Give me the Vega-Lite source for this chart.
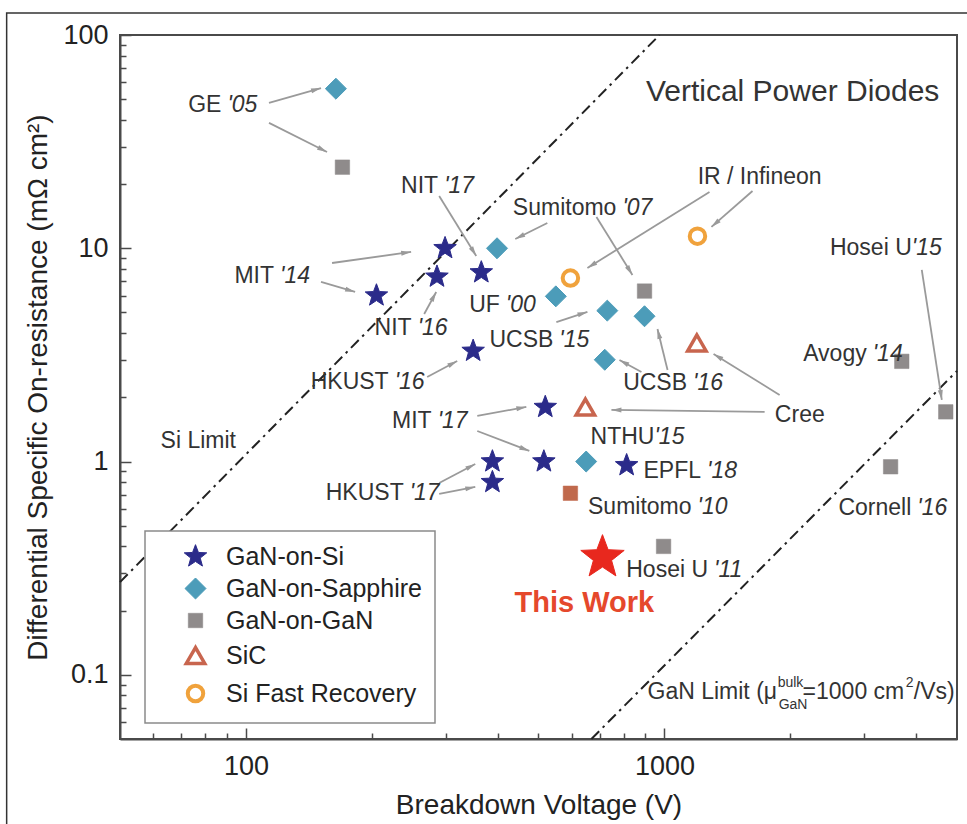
{
  "$schema": "https://vega.github.io/schema/vega-lite/v6.json",
  "width": 837,
  "height": 704,
  "autosize": {"type": "none"},
  "padding": {"left": 120, "top": 35, "right": 10, "bottom": 85},
  "background": "white",
  "config": {
    "font": "Liberation Sans",
    "view": {"stroke": "#4a4a4a", "strokeWidth": 2},
    "legend": {
      "orient": "none",
      "legendX": 25,
      "legendY": 496,
      "padding": 13,
      "strokeColor": "#8a8a8a",
      "strokeWidth": 1.5,
      "fillColor": "white",
      "labelFont": "Liberation Sans",
      "labelFontSize": 25,
      "labelColor": "#222222",
      "labelLimit": 400,
      "rowPadding": 6,
      "labelOffset": 18,
      "symbolOffset": 25
    }
  },
  "datasets": {
    "frame": [{"v": 26.8, "r": 126.8, "v2": 6330, "r2": 0.0088}],
    "pts": [
      {"cat": "GaN-on-Si", "v": 205, "r": 6.0},
      {"cat": "GaN-on-Si", "v": 299, "r": 10.0},
      {"cat": "GaN-on-Si", "v": 286, "r": 7.35},
      {"cat": "GaN-on-Si", "v": 365, "r": 7.7},
      {"cat": "GaN-on-Si", "v": 349, "r": 3.3},
      {"cat": "GaN-on-Si", "v": 519, "r": 1.8},
      {"cat": "GaN-on-Si", "v": 388, "r": 1.0},
      {"cat": "GaN-on-Si", "v": 515, "r": 1.0},
      {"cat": "GaN-on-Si", "v": 388, "r": 0.8},
      {"cat": "GaN-on-Si", "v": 812, "r": 0.96},
      {"cat": "GaN-on-Sapphire", "v": 164, "r": 56},
      {"cat": "GaN-on-Sapphire", "v": 398, "r": 10},
      {"cat": "GaN-on-Sapphire", "v": 550, "r": 5.95},
      {"cat": "GaN-on-Sapphire", "v": 730, "r": 5.1},
      {"cat": "GaN-on-Sapphire", "v": 896, "r": 4.8},
      {"cat": "GaN-on-Sapphire", "v": 720, "r": 3.0},
      {"cat": "GaN-on-Sapphire", "v": 650, "r": 1.0},
      {"cat": "GaN-on-GaN", "v": 170, "r": 24},
      {"cat": "GaN-on-GaN", "v": 896, "r": 6.3},
      {"cat": "GaN-on-GaN", "v": 995, "r": 0.40},
      {"cat": "GaN-on-GaN", "v": 3690, "r": 2.95},
      {"cat": "GaN-on-GaN", "v": 4700, "r": 1.71},
      {"cat": "GaN-on-GaN", "v": 3470, "r": 0.945},
      {"cat": "SiC", "v": 1195, "r": 3.6},
      {"cat": "SiC", "v": 647, "r": 1.8},
      {"cat": "Si Fast Recovery", "v": 596, "r": 7.25},
      {"cat": "Si Fast Recovery", "v": 1199, "r": 11.4}
    ],
    "sumi10": [{"v": 596, "r": 0.71}],
    "thiswork": [{"v": 711, "r": 0.355}],
    "limits": [
      {"line": "Si", "v": 50, "r": 0.272},
      {"line": "Si", "v": 973, "r": 100},
      {"line": "GaN", "v": 669, "r": 0.05},
      {"line": "GaN", "v": 5000, "r": 2.66}
    ],
    "arrows": [
      {"v": 151.1, "r": 56.4, "v2": 113.5, "r2": 48.0, "ang": 73.9},
      {"v": 156.2, "r": 28.28, "v2": 113.5, "r2": 38.7, "ang": 116.6},
      {"v": 355.0, "r": 9.2, "v2": 289.5, "r2": 17.59, "ang": 148.3},
      {"v": 248.1, "r": 9.61, "v2": 160.6, "r2": 8.53, "ang": 82.1},
      {"v": 182.3, "r": 6.24, "v2": 151.1, "r2": 6.95, "ang": 106.4},
      {"v": 284.8, "r": 6.24, "v2": 266.6, "r2": 4.92, "ang": 28.6},
      {"v": 440.0, "r": 11.06, "v2": 524.9, "r2": 13.14, "ang": 243.4},
      {"v": 838.3, "r": 7.5, "v2": 687.7, "r2": 14.02, "ang": 148.2},
      {"v": 654.4, "r": 8.08, "v2": 1281, "r2": 18.36, "ang": 238.1},
      {"v": 1295, "r": 12.59, "v2": 1623, "r2": 18.56, "ang": 228.7},
      {"v": 654.4, "r": 5.03, "v2": 551.6, "r2": 4.51, "ang": 72.1},
      {"v": 319.7, "r": 2.962, "v2": 271.0, "r2": 2.493, "ang": 61.9},
      {"v": 780.4, "r": 2.994, "v2": 881.0, "r2": 2.631, "ang": 298.6},
      {"v": 962.2, "r": 4.183, "v2": 1017, "r2": 2.688, "ang": 346.3},
      {"v": 1310, "r": 3.195, "v2": 1884, "r2": 2.052, "ang": 301.8},
      {"v": 746.8, "r": 1.746, "v2": 1735, "r2": 1.708, "ang": 270.7},
      {"v": 467.6, "r": 1.803, "v2": 357.0, "r2": 1.636, "ang": 79.6},
      {"v": 475.4, "r": 1.121, "v2": 357.0, "r2": 1.391, "ang": 111.0},
      {"v": 353.1, "r": 0.9744, "v2": 289.5, "r2": 0.7936, "ang": 62.2},
      {"v": 353.1, "r": 0.7601, "v2": 289.5, "r2": 0.7049, "ang": 79.0},
      {"v": 4599, "r": 1.945, "v2": 4119, "r2": 7.91, "ang": 171.3}
    ],
    "labels": [
      {"name": "GE", "yr": "'05", "v": 88.8, "r": 46.96},
      {"name": "NIT", "yr": "'17", "v": 292.7, "r": 19.59},
      {"name": "Sumitomo", "yr": "'07", "v": 780.4, "r": 15.45},
      {"name": "IR / Infineon", "yr": "", "v": 2414, "r": 21.6},
      {"name": "MIT", "yr": "'14", "v": 118.6, "r": 7.417},
      {"name": "UF", "yr": "'00", "v": 410.9, "r": 5.423},
      {"name": "NIT", "yr": "'16", "v": 253.0, "r": 4.229},
      {"name": "UCSB", "yr": "'15", "v": 551.6, "r": 3.716},
      {"name": "HKUST", "yr": "'16", "v": 222.9, "r": 2.362},
      {"name": "UCSB", "yr": "'16", "v": 1151, "r": 2.336},
      {"name": "Avogy", "yr": "'14", "v": 3093, "r": 3.2},
      {"name": "MIT", "yr": "'17", "v": 282.4, "r": 1.55},
      {"name": "Cree", "yr": "", "v": 2455, "r": 1.654},
      {"name": "Si Limit", "yr": "", "v": 96.22, "r": 1.249},
      {"name": "EPFL", "yr": "'18", "v": 1243, "r": 0.9036},
      {"name": "HKUST", "yr": "'17", "v": 242.1, "r": 0.7124},
      {"name": "Sumitomo", "yr": "'10", "v": 1180, "r": 0.6127},
      {"name": "Cornell", "yr": "'16", "v": 3953, "r": 0.6061},
      {"name": "Hosei U", "yr": "'11", "v": 1292, "r": 0.3102}
    ],
    "tightlabels": [
      {"name": "Hosei U", "yr": "'15", "v": 3898, "r": 10.03},
      {"name": "NTHU", "yr": "'15", "v": 946.3, "r": 1.304}
    ],
    "title": [{"t": "Vertical Power Diodes", "v": 2024, "r": 54.05}],
    "thisworktext": [{"t": "This Work", "v": 643.6, "r": 0.2174}],
    "ganmain": [
      {"t": "GaN Limit (μ", "v": 910.8, "r": 0.0771},
      {"t": "=1000 cm", "v": 2138, "r": 0.0771},
      {"t": "/Vs)", "v": 3942, "r": 0.0771}
    ],
    "gansmall": [
      {"t": "bulk", "v": 1864, "r": 0.08775},
      {"t": "GaN", "v": 1874, "r": 0.06921},
      {"t": "2", "v": 3772, "r": 0.08775}
    ]
  },
  "encoding": {
    "x": {
      "field": "v",
      "type": "quantitative",
      "scale": {"type": "log", "domain": [50, 5000], "nice": false},
      "axis": {
        "title": "Breakdown Voltage (V)",
        "values": [60, 70, 80, 90, 100, 200, 300, 400, 500, 600, 700, 800, 900, 1000, 2000, 3000, 4000],
        "format": "d",
        "labelExpr": "datum.value == 100 || datum.value == 1000 ? datum.label : ''",
        "tickSize": {"condition": {"test": "datum.value == 100 || datum.value == 1000", "value": -11}, "value": -6},
        "grid": false,
        "domainColor": "#4a4a4a",
        "domainWidth": 2,
        "tickColor": "#4a4a4a",
        "tickWidth": 1.5,
        "labelFontSize": 27,
        "labelColor": "#222222",
        "labelPadding": 25,
        "labelOverlap": false,
        "labelFlush": false,
        "titleFontSize": 28,
        "titleFontWeight": "normal",
        "titleColor": "#222222",
        "titlePadding": 7
      }
    },
    "y": {
      "field": "r",
      "type": "quantitative",
      "scale": {"type": "log", "domain": [0.05, 100], "nice": false},
      "axis": {
        "title": "Differential Specific On-resistance (mΩ cm²)",
        "values": [0.06, 0.07, 0.08, 0.09, 0.1, 0.2, 0.3, 0.4, 0.5, 0.6, 0.7, 0.8, 0.9, 1, 2, 3, 4, 5, 6, 7, 8, 9, 10, 20, 30, 40, 50, 60, 70, 80, 90, 100],
        "format": "~g",
        "labelExpr": "indexof([0.1, 1, 10, 100], datum.value) >= 0 ? datum.label : ''",
        "tickSize": {"condition": {"test": "indexof([0.1, 1, 10, 100], datum.value) >= 0", "value": -11}, "value": -6},
        "grid": false,
        "domainColor": "#4a4a4a",
        "domainWidth": 2,
        "tickColor": "#4a4a4a",
        "tickWidth": 1.5,
        "labelFontSize": 27,
        "labelColor": "#222222",
        "labelPadding": 23,
        "labelOverlap": false,
        "labelFlush": false,
        "titleFontSize": 28,
        "titleFontWeight": "normal",
        "titleColor": "#222222",
        "titlePadding": 10
      }
    }
  },
  "layer": [
    {
      "data": {"name": "frame"},
      "mark": {"type": "rect", "fill": "transparent", "stroke": "#333333", "strokeWidth": 1.5, "clip": false},
      "encoding": {"x2": {"field": "v2"}, "y2": {"field": "r2"}}
    },
    {
      "data": {"name": "limits"},
      "mark": {"type": "line", "stroke": "#222222", "strokeWidth": 2, "strokeDash": [11, 5, 2.5, 5]},
      "encoding": {"detail": {"field": "line"}}
    },
    {
      "data": {"name": "arrows"},
      "mark": {"type": "rule", "stroke": "#9a9a9a", "strokeWidth": 1.8},
      "encoding": {"x2": {"field": "v2"}, "y2": {"field": "r2"}}
    },
    {
      "data": {"name": "arrows"},
      "mark": {"type": "point", "shape": "M0,0L-0.5,2L0.5,2Z", "size": 100, "filled": true, "fill": "#9a9a9a", "strokeWidth": 0, "opacity": 1},
      "encoding": {"angle": {"field": "ang", "type": "quantitative", "scale": null}}
    },
    {
      "data": {"name": "pts"},
      "mark": {"type": "point", "opacity": 1},
      "encoding": {
        "shape": {"field": "cat", "type": "nominal", "title": null,
          "scale": {"domain": ["GaN-on-Si", "GaN-on-Sapphire", "GaN-on-GaN", "SiC", "Si Fast Recovery"],
            "range": ["M0,-1L0.247,-0.34L0.951,-0.309L0.399,0.13L0.588,0.809L0,0.42L-0.588,0.809L-0.399,0.13L-0.951,-0.309L-0.247,-0.34Z", "diamond", "square", "triangle-up", "circle"]}},
        "fill": {"field": "cat", "type": "nominal", "title": null,
          "scale": {"domain": ["GaN-on-Si", "GaN-on-Sapphire", "GaN-on-GaN", "SiC", "Si Fast Recovery"],
            "range": ["#2b2b8a", "#4c9cb9", "#8f8b8b", "transparent", "transparent"]}},
        "stroke": {"field": "cat", "type": "nominal", "title": null,
          "scale": {"domain": ["GaN-on-Si", "GaN-on-Sapphire", "GaN-on-GaN", "SiC", "Si Fast Recovery"],
            "range": ["#2b2b8a", "#4c9cb9", "#8f8b8b", "#c8654e", "#f0a23c"]}},
        "size": {"field": "cat", "type": "nominal", "title": null,
          "scale": {"type": "ordinal", "domain": ["GaN-on-Si", "GaN-on-Sapphire", "GaN-on-GaN", "SiC", "Si Fast Recovery"],
            "range": [560, 440, 210, 340, 240]}},
        "strokeWidth": {"field": "cat", "type": "nominal", "title": null,
          "scale": {"type": "ordinal", "domain": ["GaN-on-Si", "GaN-on-Sapphire", "GaN-on-GaN", "SiC", "Si Fast Recovery"],
            "range": [1, 1, 0.5, 3.5, 4]}}
      }
    },
    {
      "data": {"name": "sumi10"},
      "mark": {"type": "point", "shape": "square", "size": 210, "filled": true, "fill": "#c0694c", "stroke": "#c0694c", "strokeWidth": 0.5, "opacity": 1}
    },
    {
      "data": {"name": "thiswork"},
      "mark": {"type": "point", "shape": "M0,-1L0.247,-0.34L0.951,-0.309L0.399,0.13L0.588,0.809L0,0.42L-0.588,0.809L-0.399,0.13L-0.951,-0.309L-0.247,-0.34Z", "size": 2080, "filled": true, "fill": "#e8281e", "stroke": "#e8281e", "strokeWidth": 1, "opacity": 1}
    },
    {
      "data": {"name": "labels"},
      "mark": {"type": "text", "align": "right", "baseline": "middle", "dx": -3, "fontSize": 23, "color": "#333333"},
      "encoding": {"text": {"field": "name"}}
    },
    {
      "data": {"name": "labels"},
      "mark": {"type": "text", "align": "left", "baseline": "middle", "dx": 3, "fontSize": 23, "fontStyle": "italic", "color": "#333333"},
      "encoding": {"text": {"field": "yr"}}
    },
    {
      "data": {"name": "tightlabels"},
      "mark": {"type": "text", "align": "right", "baseline": "middle", "dx": 0, "fontSize": 23, "color": "#333333"},
      "encoding": {"text": {"field": "name"}}
    },
    {
      "data": {"name": "tightlabels"},
      "mark": {"type": "text", "align": "left", "baseline": "middle", "dx": 0, "fontSize": 23, "fontStyle": "italic", "color": "#333333"},
      "encoding": {"text": {"field": "yr"}}
    },
    {
      "data": {"name": "title"},
      "mark": {"type": "text", "align": "center", "baseline": "middle", "fontSize": 30, "color": "#333333"},
      "encoding": {"text": {"field": "t"}}
    },
    {
      "data": {"name": "thisworktext"},
      "mark": {"type": "text", "align": "center", "baseline": "middle", "fontSize": 29, "fontWeight": "bold", "color": "#e5482c"},
      "encoding": {"text": {"field": "t"}}
    },
    {
      "data": {"name": "ganmain"},
      "mark": {"type": "text", "align": "left", "baseline": "alphabetic", "fontSize": 23, "color": "#333333"},
      "encoding": {"text": {"field": "t"}}
    },
    {
      "data": {"name": "gansmall"},
      "mark": {"type": "text", "align": "left", "baseline": "alphabetic", "fontSize": 14, "color": "#333333"},
      "encoding": {"text": {"field": "t"}}
    }
  ]
}
